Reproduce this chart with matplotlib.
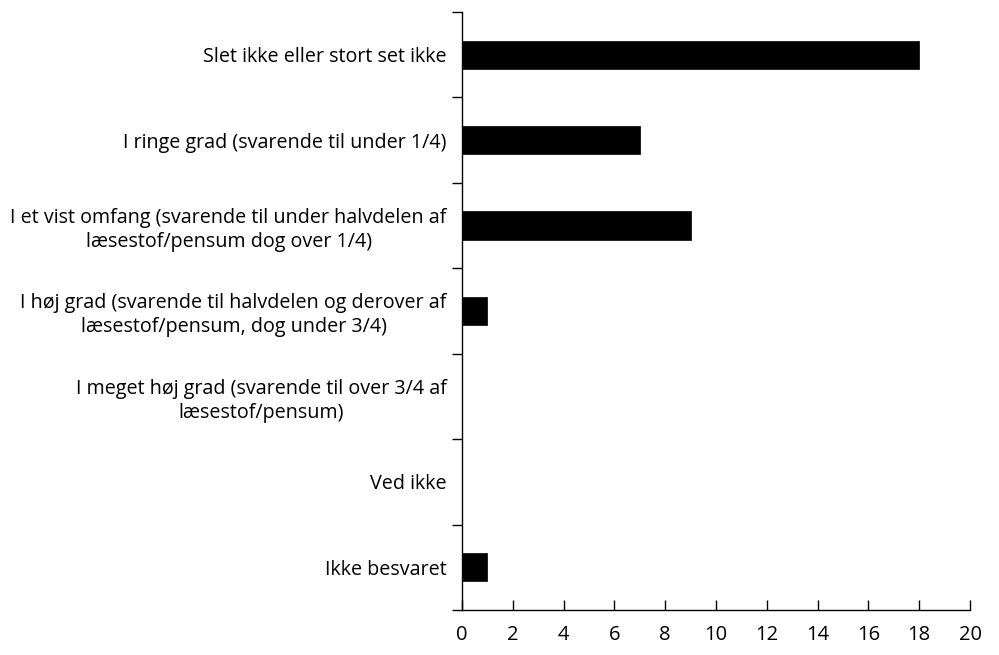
import matplotlib.pyplot as plt
import numpy as np

categories = [
    "Slet ikke eller stort set ikke",
    "I ringe grad (svarende til under 1/4)",
    "I et vist omfang (svarende til under halvdelen af\nlæsestof/pensum dog over 1/4)",
    "I høj grad (svarende til halvdelen og derover af\nlæsestof/pensum, dog under 3/4)",
    "I meget høj grad (svarende til over 3/4 af\nlæsestof/pensum)",
    "Ved ikke",
    "Ikke besvaret",
]
values = [18, 7, 9, 1, 0, 0, 1]
xticks = list(range(0, 21, 2))

plt.rcParams['font.family'] = ['Open Sans', 'DejaVu Sans']

fig = plt.figure(figsize=(9.99, 6.55), dpi=100)
ax = fig.add_axes([0.4625, 0.0687, 0.5085, 0.913])

y = np.arange(len(categories))
ax.barh(y, values, height=0.33, color='black', edgecolor='black', linewidth=0.5)

ax.set_ylim(len(categories) - 0.5, -0.5)
ax.set_xlim(0, 20)
ax.set_xticks(xticks)
ax.set_xticklabels([str(t) for t in xticks], fontsize=14.5)

# major ticks between categories, labels on minor ticks at the centres
ax.set_yticks(np.arange(-0.5, len(categories), 1))
ax.set_yticklabels([])
ax.set_yticks(y, minor=True)
ax.set_yticklabels(categories, minor=True, fontsize=14.2)
for lab in ax.get_yticklabels(minor=True):
    lab.set_multialignment('center')
    lab.set_linespacing(1.25)

ax.tick_params(axis='y', which='major', direction='out', length=7, width=1)
ax.tick_params(axis='y', which='minor', length=0, pad=11)
ax.tick_params(axis='x', direction='in', length=7, width=1, pad=11)

for s in ['top', 'right']:
    ax.spines[s].set_visible(False)
for s in ['left', 'bottom']:
    ax.spines[s].set_linewidth(1)

fig.savefig('out.png', dpi=100)
